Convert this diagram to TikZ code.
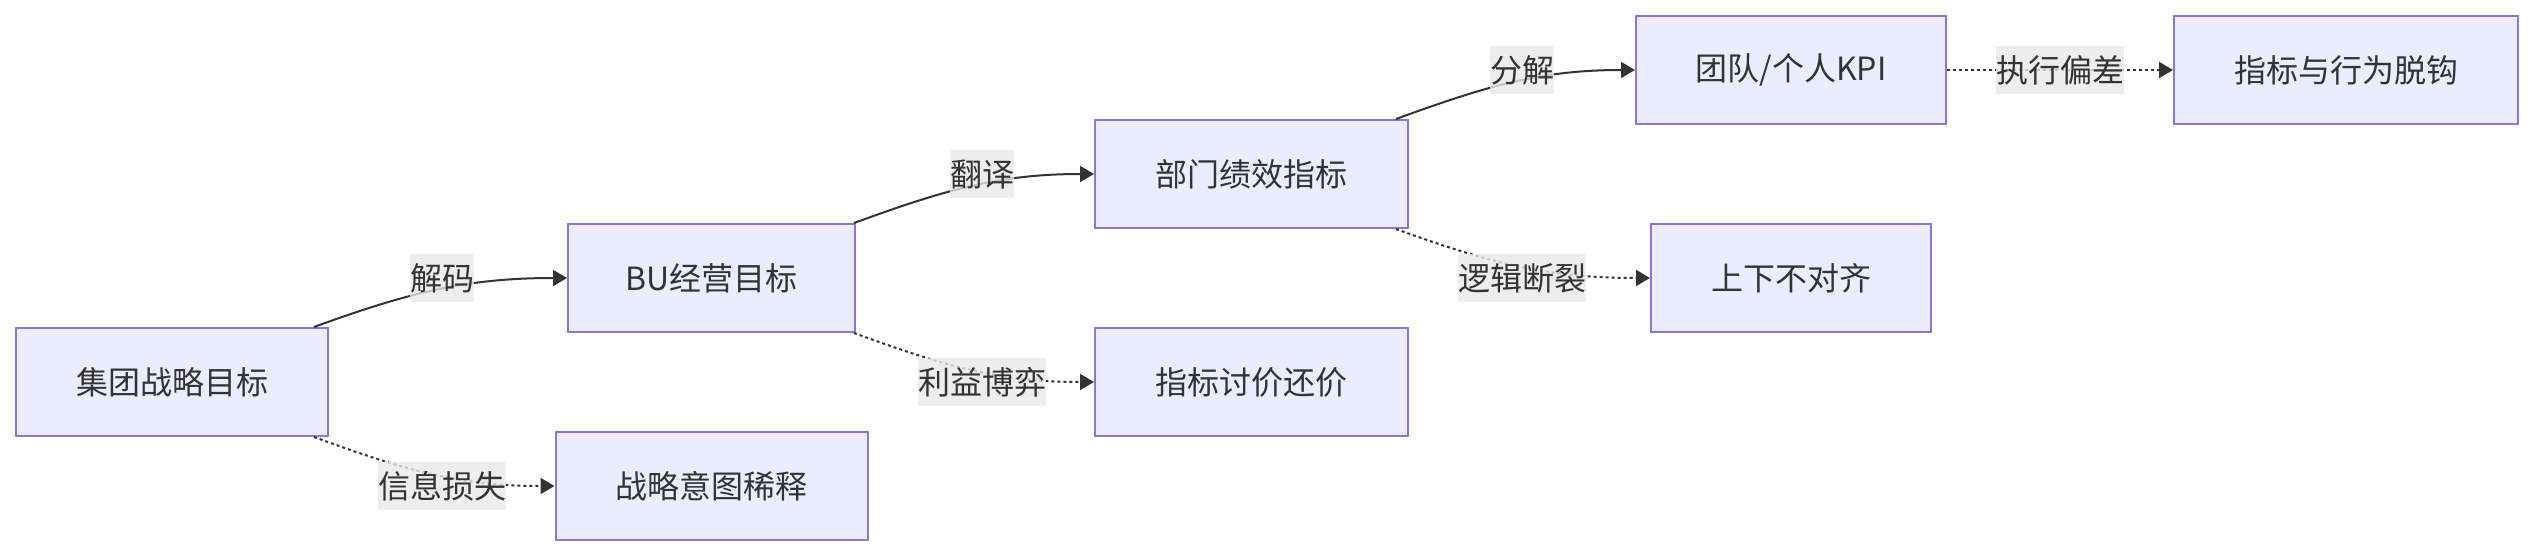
\documentclass[tikz,border=0pt]{standalone}
\usepackage{fontspec}
\setmainfont{Noto Sans CJK SC}
\usetikzlibrary{arrows.meta}

\definecolor{boxfill}{HTML}{ECECFF}
\definecolor{boxline}{HTML}{9370DB}
\definecolor{ink}{HTML}{333333}
\definecolor{tagfill}{HTML}{E8E8E8}

\begin{document}
\begin{tikzpicture}[x=0.5pt, y=-0.5pt, line width=1pt, text=ink,
    font=\fontsize{16}{20}\selectfont, >={Triangle[length=7pt,width=8pt]},
    goal/.style={draw=boxline, fill=boxfill, minimum height=54pt, inner sep=0pt},
    tag/.style={fill=tagfill, fill opacity=0.8, text opacity=1, minimum height=24pt, inner sep=0pt},
    flow/.style={->, draw=ink},
    leak/.style={->, draw=ink, dash pattern=on 1.5pt off 1.5pt}]
    \useasboundingbox (0,0) rectangle (2533,556);
    \node[goal, minimum width=156pt] (group) at (172,382) {集团战略目标};
    \node[goal, minimum width=143.5pt] (bu) at (711.5,278) {BU经营目标};
    \node[goal, minimum width=156pt, below of=bu, node distance=104pt] (dilute) {战略意图稀释};
    \node[goal, minimum width=156.5pt] (dept) at (1251.5,174) {部门绩效指标};
    \node[goal, minimum width=156.5pt, below of=dept, node distance=104pt] (haggle) {指标讨价还价};
    \node[goal, minimum width=155pt] (kpi) at (1791,70) {团队/个人KPI};
    \node[goal, minimum width=140pt, below of=kpi, node distance=104pt] (misalign) {上下不对齐};
    \node[goal, minimum width=172pt, right of=kpi, node distance=277.5pt] (decouple) {指标与行为脱钩};
    \draw[flow] ([xshift=-7.5pt]group.north east) to[out=20, in=180] (bu.west);
    \draw[leak] ([xshift=-7.5pt]group.south east) to[out=-20, in=180] (dilute.west);
    \draw[flow] ([xshift=-1pt]bu.north east) to[out=20, in=180] (dept.west);
    \draw[leak] ([xshift=-1pt]bu.south east) to[out=-20, in=180] (haggle.west);
    \draw[flow] ([xshift=-6.5pt]dept.north east) to[out=20, in=180] (kpi.west);
    \draw[leak] ([xshift=-6.5pt]dept.south east) to[out=-20, in=180] (misalign.west);
    \draw[leak] (kpi) -- (decouple);
    \node[tag] (decode) at (442,278) {解码};
    \node[tag] (loss) at (442,486) {信息损失};
    \node[tag] (translate) at (982,174) {翻译};
    \node[tag] (game) at (982,382) {利益博弈};
    \node[tag] (split) at (1522,70) {分解};
    \node[tag] (broken) at (1522,278) {逻辑断裂};
    \node[tag] (drift) at (2060,70) {执行偏差};
\end{tikzpicture}
\end{document}
